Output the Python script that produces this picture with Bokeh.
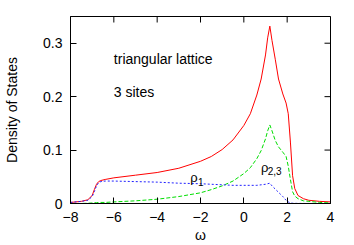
import math
from bokeh.plotting import figure
from bokeh.models import Range1d, FixedTicker, Label
from bokeh.embed import file_html
from bokeh.resources import INLINE

omega = [-8.0, -7.5, -7.2, -7.0, -6.9, -6.8, -6.7, -6.6, -6.4, -6.0, -5.0, -4.0, -3.0,
         -2.0, -1.5, -1.0, -0.5, 0.0, 0.3, 0.6, 0.8, 1.0, 1.1, 1.2, 1.3, 1.45, 1.6,
         1.8, 1.95, 2.05, 2.15, 2.25, 2.35, 2.5, 2.75, 3.0, 3.5, 4.0]

rho_total = [0.002, 0.004, 0.007, 0.015, 0.026, 0.036, 0.041, 0.043, 0.045, 0.048,
             0.053, 0.058, 0.066, 0.079, 0.088, 0.101, 0.119, 0.146, 0.168, 0.203,
             0.233, 0.278, 0.310, 0.332, 0.305, 0.270, 0.233, 0.205, 0.188, 0.168,
             0.115, 0.052, 0.028, 0.015, 0.009, 0.006, 0.004, 0.003]

rho_1 = [0.002, 0.004, 0.006, 0.013, 0.022, 0.033, 0.039, 0.041, 0.042, 0.042,
         0.041, 0.040, 0.038, 0.037, 0.036, 0.035, 0.034, 0.034, 0.034, 0.034,
         0.035, 0.036, 0.037, 0.038, 0.033, 0.027, 0.021, 0.013, 0.006, 0.003,
         0.001, 0.0005, 0.0003, 0.0002, 0.0001, 0.0001, 0.0, 0.0]

rho_23 = [0.0, 0.0, 0.0005, 0.001, 0.0015, 0.0015, 0.002, 0.002, 0.002, 0.003,
          0.005, 0.008, 0.013, 0.020, 0.026, 0.033, 0.042, 0.056, 0.067, 0.084,
          0.099, 0.121, 0.136, 0.147, 0.136, 0.118, 0.106, 0.096, 0.088, 0.070,
          0.045, 0.022, 0.014, 0.009, 0.005, 0.004, 0.002, 0.001]

x_ticks = [-8, -6, -4, -2, 0, 2, 4]
y_ticks = [0, 0.1, 0.2, 0.3]
y_tick_labels = {0: "0", 0.1: "0.1", 0.2: "0.2", 0.3: "0.3"}
x_min, x_max = -8, 4
y_min, y_max = 0, 0.35

FONT = "Liberation Sans"
FS = "14px"

p = figure(width=354, height=245, output_backend="svg", toolbar_location=None,
           x_range=Range1d(x_min, x_max), y_range=Range1d(y_min, y_max),
           min_border_left=70, min_border_right=24, min_border_top=16, min_border_bottom=42,
           x_axis_label="ω", y_axis_label="Density of States")

p.xgrid.visible = False
p.ygrid.visible = False
p.outline_line_color = "black"
p.outline_line_width = 1
p.background_fill_color = "white"
p.border_fill_color = "white"

for ax in p.xaxis:
    ax.ticker = FixedTicker(ticks=x_ticks)
for ax in p.yaxis:
    ax.ticker = FixedTicker(ticks=y_ticks)
    ax.major_label_overrides = y_tick_labels

for ax in list(p.xaxis) + list(p.yaxis):
    ax.major_tick_in = 6
    ax.major_tick_out = 0
    ax.minor_tick_line_color = None
    ax.axis_line_color = "black"
    ax.major_label_text_font = FONT
    ax.major_label_text_font_size = FS
    ax.major_label_text_color = "black"
    ax.axis_label_text_font = FONT
    ax.axis_label_text_font_size = FS
    ax.axis_label_text_font_style = "normal"
    ax.axis_label_text_color = "black"
    ax.major_label_standoff = 8

p.xaxis.axis_label_standoff = 2
p.yaxis.axis_label_standoff = 20

# mirrored inward ticks on top and right edges (half of each dash is clipped by the frame)
p.scatter(x_ticks, [y_max] * len(x_ticks), marker="dash", size=12, angle=math.pi / 2,
          line_color="black", line_width=1)
p.scatter([x_max] * len(y_ticks), y_ticks, marker="dash", size=12,
          line_color="black", line_width=1)

p.line(omega, rho_total, line_color="#ff0000", line_width=1)
p.line(omega, rho_23, line_color="#00dd00", line_width=1, line_dash="4 2")
p.line(omega, rho_1, line_color="#2222ff", line_width=1, line_dash="2 2")

p.add_layout(Label(x=-6.0, y=0.27, text="triangular lattice", text_font=FONT,
                   text_font_size=FS, text_color="black", text_baseline="alphabetic"))
p.add_layout(Label(x=-6.0, y=0.208, text="3 sites", text_font=FONT,
                   text_font_size=FS, text_color="black", text_baseline="alphabetic"))

p.add_layout(Label(x=-2.47, y=0.049, text="ρ", text_font=FONT,
                   text_font_size="13px", text_color="black", text_baseline="alphabetic"))
p.add_layout(Label(x=-2.12, y=0.040, text="1", text_font=FONT,
                   text_font_size="10px", text_color="black", text_baseline="alphabetic"))
p.add_layout(Label(x=0.79, y=0.068, text="ρ", text_font=FONT,
                   text_font_size="13px", text_color="black", text_baseline="alphabetic"))
p.add_layout(Label(x=1.1, y=0.060, text="2,3", text_font=FONT,
                   text_font_size="10px", text_color="black", text_baseline="alphabetic"))

open("out.html", "w").write(file_html(p, INLINE))
